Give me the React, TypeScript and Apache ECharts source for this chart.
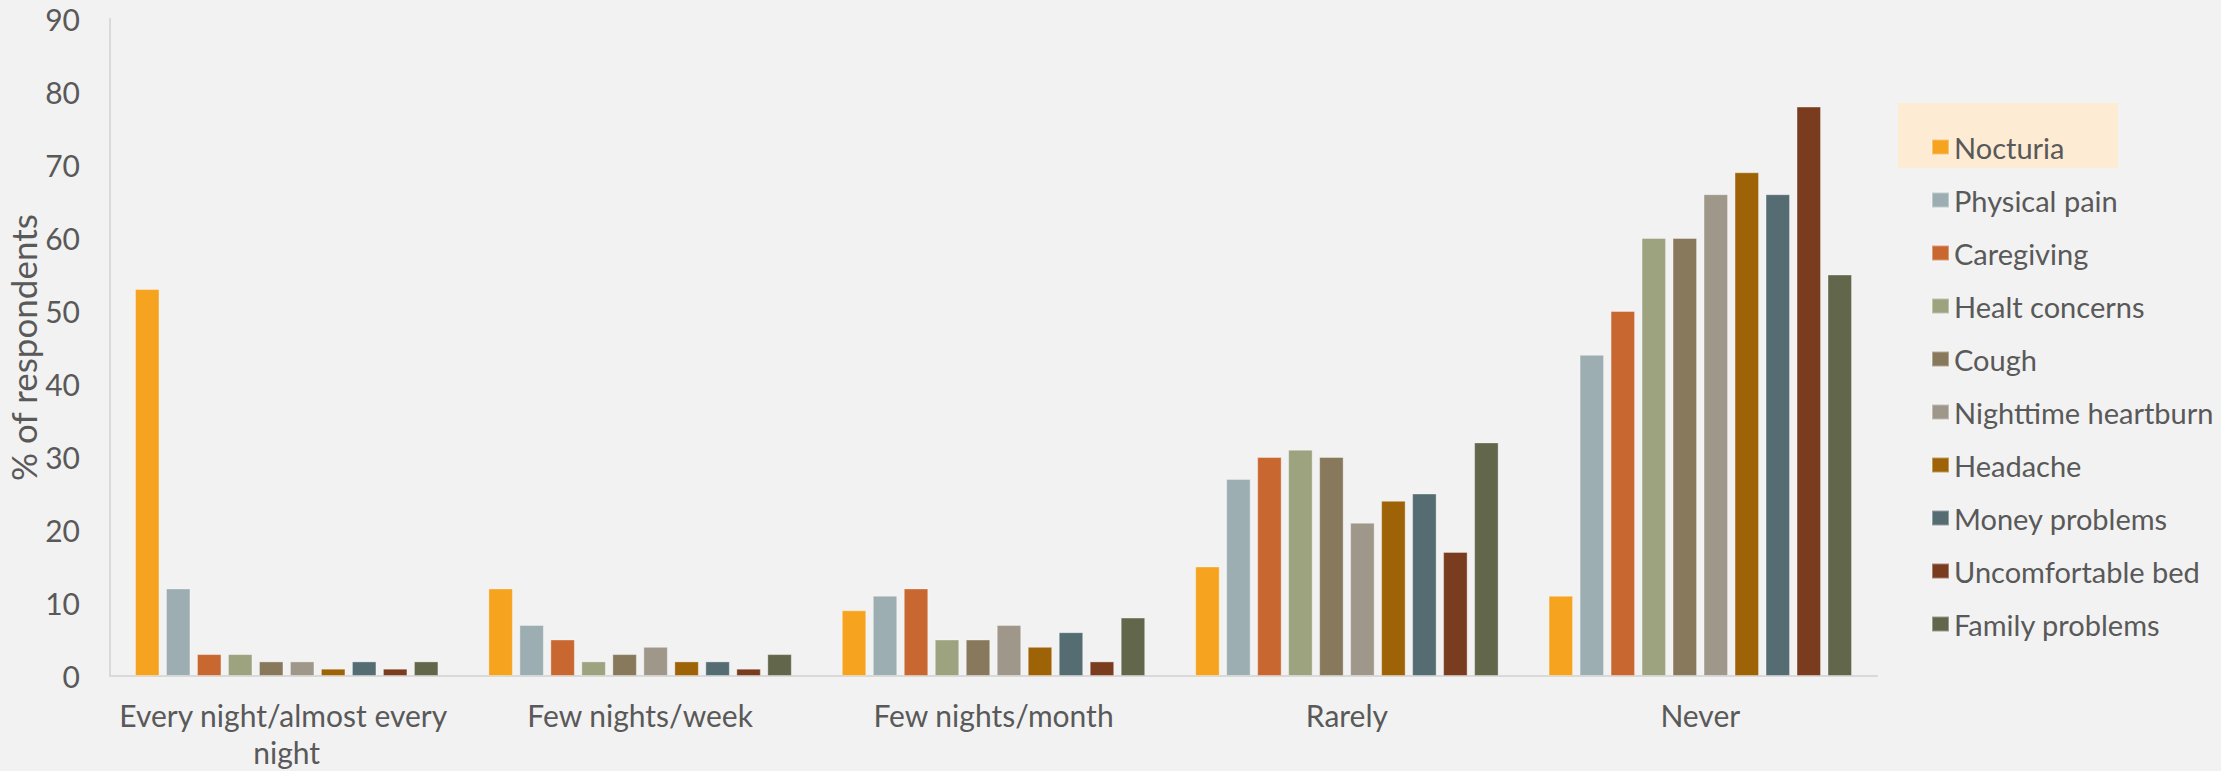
import React, { useEffect, useRef } from "react";
import * as echarts from "echarts";

// Frequency categories on the x axis
const categories = [
  "Every night/almost every night",
  "Few nights/week",
  "Few nights/month",
  "Rarely",
  "Never",
];

// Sleep disruptors (one series each)
const seriesNames = [
  "Nocturia",
  "Physical pain",
  "Caregiving",
  "Healt concerns",
  "Cough",
  "Nighttime heartburn",
  "Headache",
  "Money problems",
  "Uncomfortable bed",
  "Family problems",
];

const seriesColors = [
  "#f6a31f",
  "#9daeb3",
  "#c96731",
  "#9da27f",
  "#88795c",
  "#a0978b",
  "#9e6306",
  "#566c73",
  "#7a3c1e",
  "#62664a",
];

// % of respondents per frequency, in category order
const nocturia = [53, 12, 9, 15, 11];
const physicalPain = [12, 7, 11, 27, 44];
const caregiving = [3, 5, 12, 30, 50];
const healthConcerns = [3, 2, 5, 31, 60];
const cough = [2, 3, 5, 30, 60];
const nighttimeHeartburn = [2, 4, 7, 21, 66];
const headache = [1, 2, 4, 24, 69];
const moneyProblems = [2, 2, 6, 25, 66];
const uncomfortableBed = [1, 1, 2, 17, 78];
const familyProblems = [2, 3, 8, 32, 55];

const seriesValues = [
  nocturia,
  physicalPain,
  caregiving,
  healthConcerns,
  cough,
  nighttimeHeartburn,
  headache,
  moneyProblems,
  uncomfortableBed,
  familyProblems,
];

const yTicks = { min: 0, max: 90, interval: 10 };

const FONT = "Lato, 'Noto Sans', sans-serif";
const TEXT = "#595959";

export default function App() {
  const ref = useRef<HTMLDivElement>(null);

  useEffect(() => {
    if (!ref.current) return;
    const chart = echarts.init(ref.current, undefined, { renderer: "svg" });

    chart.setOption({
      animation: false,
      backgroundColor: "#f2f2f2",
      textStyle: { fontFamily: FONT, color: TEXT },
      graphic: [
        {
          // highlighted legend entry
          type: "rect",
          z: -1,
          shape: { x: 1898, y: 103, width: 220, height: 65 },
          style: { fill: "#fdebd4" },
        },
      ],
      legend: {
        orient: "vertical",
        left: 1931,
        top: 132,
        padding: 0,
        itemWidth: 17,
        itemHeight: 15,
        itemGap: 23,
        icon: "rect",
        textStyle: {
          fontFamily: FONT,
          fontSize: 29,
          lineHeight: 30,
          color: TEXT,
        },
        data: seriesNames,
      },
      grid: {
        left: 110,
        right: 344,
        top: 19,
        bottom: 95,
        containLabel: false,
        outerBoundsMode: "none",
      },
      xAxis: {
        type: "category",
        data: categories,
        axisLine: { show: true, lineStyle: { color: "#d9d9d9", width: 2 } },
        axisTick: { show: false },
        axisLabel: {
          interval: 0,
          margin: 20,
          fontFamily: FONT,
          fontSize: 30,
          lineHeight: 37,
          color: TEXT,
          width: 345,
          overflow: "break",
        },
      },
      yAxis: {
        type: "value",
        min: yTicks.min,
        max: yTicks.max,
        interval: yTicks.interval,
        name: "% of respondents",
        nameLocation: "middle",
        nameGap: 70,
        nameRotate: 90,
        nameMoveOverlap: false,
        nameTextStyle: { fontFamily: FONT, fontSize: 35, color: TEXT },
        axisLine: { show: true, lineStyle: { color: "#d9d9d9", width: 2 } },
        axisTick: { show: false },
        splitLine: { show: false },
        axisLabel: {
          margin: 30,
          fontFamily: FONT,
          fontSize: 30,
          color: TEXT,
        },
      },
      series: seriesNames.map((name, i) => ({
        name,
        type: "bar",
        data: seriesValues[i],
        barWidth: 24.5,
        barGap: "26.5%",
        itemStyle: {
          color: seriesColors[i],
          borderColor: "rgba(255,255,255,0.35)",
          borderWidth: 1,
        },
      })),
    });

    return () => chart.dispose();
  }, []);

  return (
    <div
      ref={ref}
      style={{
        position: "fixed",
        left: 0,
        top: 0,
        width: 2221,
        height: 771,
        background: "#f2f2f2",
      }}
    />
  );
}
